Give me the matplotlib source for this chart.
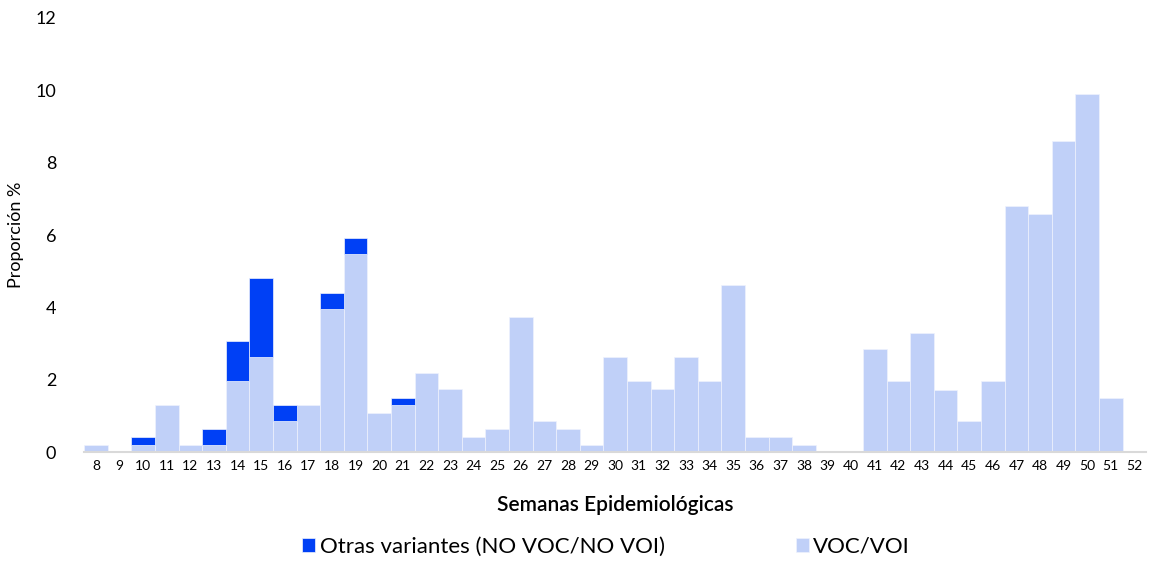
import numpy as np
from matplotlib import pyplot as plt

plt.rcParams['font.family'] = ['Lato', 'DejaVu Sans']

semanas = list(range(8, 53))
# proporcion (%) por semana epidemiologica
voc_voi = [0.2, 0.0, 0.2, 1.3, 0.2, 0.2, 1.96, 2.62, 0.86, 1.29,
           3.95, 5.49, 1.07, 1.29, 2.18, 1.74, 0.43, 0.64, 3.73, 0.86,
           0.64, 0.21, 2.63, 1.97, 1.75, 2.63, 1.97, 4.61, 0.43, 0.43,
           0.21, 0.0, 0.0, 2.84, 1.96, 3.28, 1.73, 0.86, 1.96, 6.8,
           6.59, 8.59, 9.9, 1.51, 0.0]
otras = [0.0, 0.0, 0.21, 0.0, 0.0, 0.43, 1.1, 2.2, 0.43, 0.0,
         0.44, 0.44, 0.0, 0.22, 0.0, 0.0, 0.0, 0.0, 0.0, 0.0,
         0.0, 0.0, 0.0, 0.0, 0.0, 0.0, 0.0, 0.0, 0.0, 0.0,
         0.0, 0.0, 0.0, 0.0, 0.0, 0.0, 0.0, 0.0, 0.0, 0.0,
         0.0, 0.0, 0.0, 0.0, 0.0]

c_otras = '#0040F5'
c_voc = '#C0D0F8'

fig = plt.figure(figsize=(11.52, 5.61), dpi=100)
ax = fig.add_axes([0.073, 0.194, 0.922, 0.774])

x = np.array(semanas)
voc = np.array(voc_voi)
oth = np.array(otras)

# zero-height bars are skipped so their edges don't sit on the baseline
m1 = voc > 0
m2 = oth > 0
ax.bar(x[m1], voc[m1], width=1.0, color=c_voc, edgecolor='#EEF2FD',
       linewidth=0.5, label='VOC/VOI')
ax.bar(x[m2], oth[m2], width=1.0, bottom=voc[m2], color=c_otras,
       edgecolor='#EEF2FD', linewidth=0.5,
       label='Otras variantes (NO VOC/NO VOI)')

ax.set_xlim(7.5, 52.5)
ax.set_ylim(0, 12)
ax.set_yticks(range(0, 13, 2))
ax.set_xticks(semanas)
ax.set_xticklabels([str(s) for s in semanas], fontsize=10)
ax.tick_params(axis='y', labelsize=13, length=0, pad=20)
ax.tick_params(axis='x', length=0, pad=6)

for side in ['top', 'right', 'left']:
    ax.spines[side].set_visible(False)
ax.spines['bottom'].set_color('#D9D9D9')
ax.spines['bottom'].set_linewidth(1.5)

ax.set_ylabel('Proporción %', fontsize=13, labelpad=8)
ax.set_xlabel('Semanas Epidemiológicas', fontsize=15, fontweight='semibold',
              labelpad=16)

handles, labels = ax.get_legend_handles_labels()
fig.legend(handles[::-1], labels[::-1], loc='center', ncol=2,
           bbox_to_anchor=(0.526, 0.026), frameon=False, fontsize=16,
           handlelength=0.6, handleheight=0.6, handletextpad=0.2,
           columnspacing=5.9)

fig.savefig('out.png', dpi=100)
